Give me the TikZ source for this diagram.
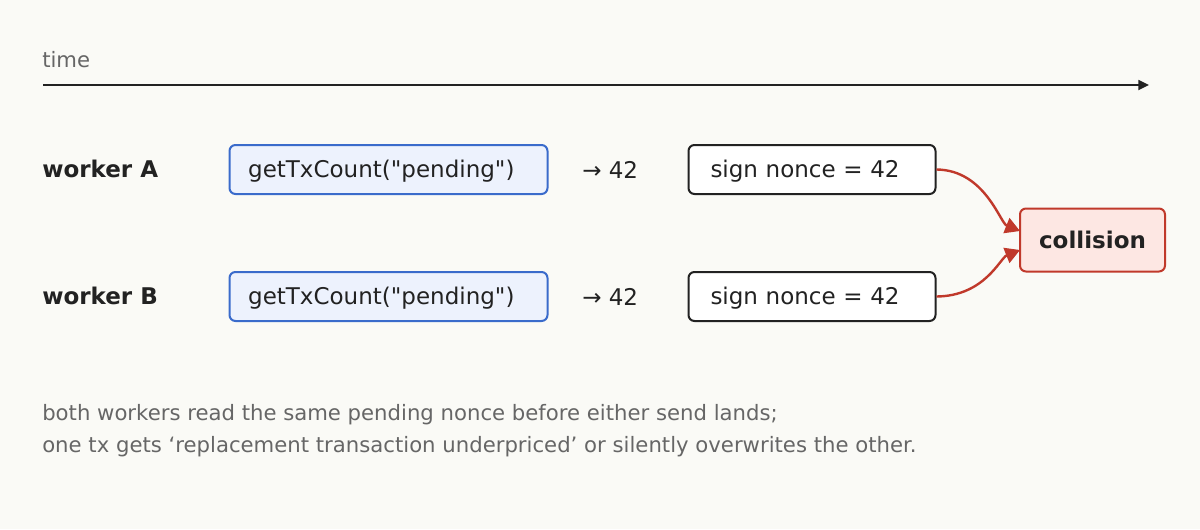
\documentclass[tikz,border=0pt]{standalone}
\usepackage{fontspec}
\setmainfont{DejaVu Sans}[Ligatures=TeXOff]
\usetikzlibrary{arrows.meta}
\definecolor{bgc}{HTML}{FAFAF6}
\definecolor{ink}{HTML}{222222}
\definecolor{muted}{HTML}{666666}
\definecolor{blueb}{HTML}{3A6BCB}
\definecolor{bluef}{HTML}{EDF2FD}
\definecolor{redb}{HTML}{C0392B}
\definecolor{redf}{HTML}{FDE7E3}
\tikzset{
  mainfont/.style={font=\fontsize{17.25pt}{20pt}\selectfont, text height=12.6pt, text depth=0pt},
  callbox/.style={draw=blueb, fill=bluef, line width=1.5pt, rounded corners=4.5pt,
    anchor=west, minimum height=36.75pt, inner ysep=0pt, inner xsep=14pt,
    text width=210.5pt, align=left, mainfont, text=ink},
  signbox/.style={draw=ink, fill=white, line width=1.5pt, rounded corners=4.5pt,
    anchor=west, minimum height=36.75pt, inner ysep=0pt, inner xsep=16.5pt,
    text width=152.25pt, align=left, mainfont, text=ink},
  collbox/.style={draw=redb, fill=redf, line width=1.5pt, rounded corners=4.5pt,
    minimum width=108.75pt, minimum height=47.25pt, inner sep=0pt,
    font=\bfseries\fontsize{17.25pt}{20pt}\selectfont, text height=12.6pt, text depth=0pt, text=ink},
  rowlabel/.style={anchor=west, inner sep=0pt, font=\bfseries\fontsize{17.25pt}{20pt}\selectfont,
    text height=12.6pt, text depth=0pt, text=ink},
  result/.style={anchor=west, inner sep=0pt, mainfont, text=ink},
  note/.style={anchor=west, inner sep=0pt, font=\fontsize{15.9pt}{19pt}\selectfont, text=muted},
  hit/.style={draw=redb, line width=1.8pt, -{Triangle[length=11pt,width=12pt]}},
}
\begin{document}
\begin{tikzpicture}[x=0.75pt,y=-0.75pt]
\useasboundingbox[fill=bgc] (0,0) rectangle (1200,529);
% time axis
\node[note] (tlabel) at (42,60) {time};
\coordinate (t0) at (43,85);
\coordinate (t1) at (1149,85);
\draw[ink, line width=1.3pt, -{Triangle[length=8pt,width=7.5pt]}] (t0) -- (t1);
% row A
\node[rowlabel] (wa) at (42,169) {worker A};
\node[callbox] (ga) at (228.5,169.5) {getTxCount("pending")};
\node[result] (ra) at (582,170) {→ 42};
\node[signbox] (sa) at (687.5,169.5) {sign nonce = 42};
% row B
\node[rowlabel] (wb) at (42,296) {worker B};
\node[callbox] (gb) at (228.5,296.5) {getTxCount("pending")};
\node[result] (rb) at (582,297) {→ 42};
\node[signbox] (sb) at (687.5,296.5) {sign nonce = 42};
% collision
\node[collbox] (coll) at (1092.5,240) {collision};
\coordinate (inA) at (1020,231);
\coordinate (inB) at (1020,250);
\draw[hit] (sa.east) .. controls (985,170) and (1000,223) .. (inA);
\draw[hit] (sb.east) .. controls (985,296) and (1000,258) .. (inB);
% notes
\node[note] (n1) at (42,415) {both workers read the same pending nonce before either send lands;};
\node[note] (n2) at (42,447) {one tx gets ‘replacement transaction underpriced’ or silently overwrites the other.};
\end{tikzpicture}
\end{document}
